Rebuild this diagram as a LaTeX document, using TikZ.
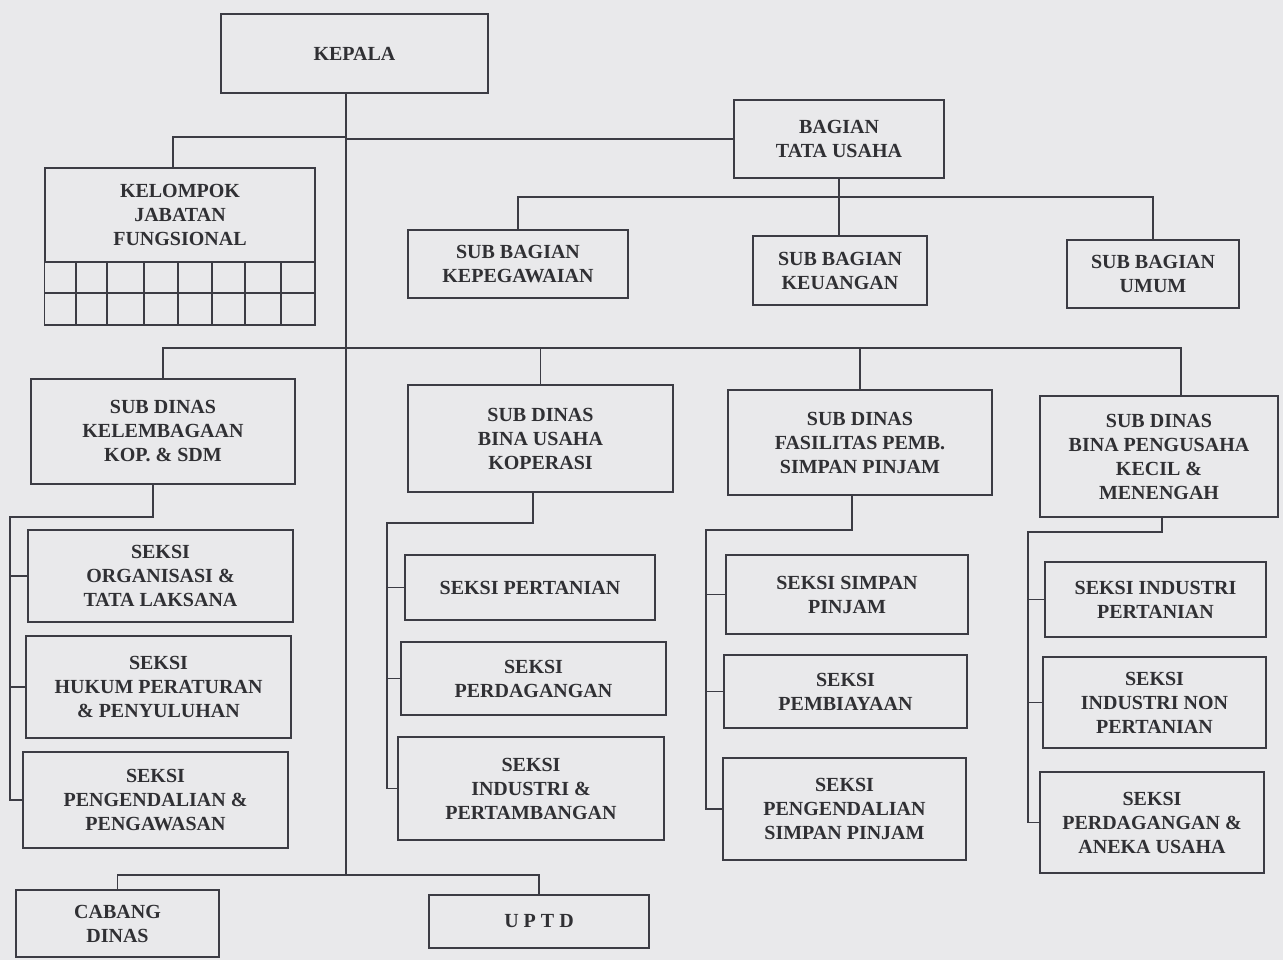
\documentclass[tikz,border=0pt]{standalone}
\usepackage{fontspec}
\setmainfont{Liberation Serif}
\definecolor{bgc}{HTML}{E9E9EB}
\definecolor{linec}{HTML}{3C3C44}
\definecolor{textc}{HTML}{303034}
\tikzset{
  box/.style={draw=linec, line width=1.4pt, align=center, inner sep=0pt,
    text=textc, font=\bfseries\fontsize{20}{24}\selectfont},
  conn/.style={draw=linec, line width=1.4pt}
}
\newcommand\bx[6]{%
  \pgfmathsetmacro\bxcx{(#2+#4)/2}\pgfmathsetmacro\bxcy{(#3+#5)/2}%
  \pgfmathsetmacro\bxw{#4-#2}\pgfmathsetmacro\bxh{#5-#3}%
  \node[box,minimum width=\bxw pt,minimum height=\bxh pt] (#1) at (\bxcx,\bxcy) {#6};}
\begin{document}
\begin{tikzpicture}[x=1pt,y=-1pt]
\useasboundingbox (0,0) rectangle (1283,960);
\fill[bgc] (0,0) rectangle (1283,960);
% boxes
\bx{kepala}{221}{14}{488}{93}{KEPALA}
\bx{bagian}{734}{100}{944}{178}{BAGIAN\\TATA USAHA}
\bx{kepeg}{408}{230}{628}{298}{SUB BAGIAN\\KEPEGAWAIAN}
\bx{keu}{753}{236}{927}{305}{SUB BAGIAN\\KEUANGAN}
\bx{umum}{1067}{240}{1239}{308}{SUB BAGIAN\\UMUM}
\bx{kel}{45}{168}{315}{262}{KELOMPOK\\JABATAN\\FUNGSIONAL}
\draw[conn] (kel.south west) rectangle (315,325);
\draw[conn] (45,293) -- (315,293);
\foreach \gx in {76,107,144,178,212,245,281} \draw[conn] (\gx,262) -- (\gx,325);
\bx{sd1}{31}{379}{295}{484}{SUB DINAS\\KELEMBAGAAN\\KOP. \& SDM}
\bx{sd2}{408}{385}{673}{492}{SUB DINAS\\BINA USAHA\\KOPERASI}
\bx{sd3}{728}{390}{992}{495}{SUB DINAS\\FASILITAS PEMB.\\SIMPAN PINJAM}
\bx{sd4}{1040}{396}{1278}{517}{SUB DINAS\\BINA PENGUSAHA\\KECIL \&\\MENENGAH}
\bx{s11}{28}{530}{293}{622}{SEKSI\\ORGANISASI \&\\TATA LAKSANA}
\bx{s12}{26}{636}{291}{738}{SEKSI\\HUKUM PERATURAN\\\& PENYULUHAN}
\bx{s13}{23}{752}{288}{848}{SEKSI\\PENGENDALIAN \&\\PENGAWASAN}
\bx{s21}{405}{555}{655}{620}{SEKSI PERTANIAN}
\bx{s22}{401}{642}{666}{715}{SEKSI\\PERDAGANGAN}
\bx{s23}{398}{737}{664}{840}{SEKSI\\INDUSTRI \&\\PERTAMBANGAN}
\bx{s31}{726}{555}{968}{634}{SEKSI SIMPAN\\PINJAM}
\bx{s32}{724}{655}{967}{728}{SEKSI\\PEMBIAYAAN}
\bx{s33}{723}{758}{966}{860}{SEKSI\\PENGENDALIAN\\SIMPAN PINJAM}
\bx{s41}{1045}{562}{1266}{637}{SEKSI INDUSTRI\\PERTANIAN}
\bx{s42}{1043}{657}{1266}{748}{SEKSI\\INDUSTRI NON\\PERTANIAN}
\bx{s43}{1040}{772}{1264}{873}{SEKSI\\PERDAGANGAN \&\\ANEKA USAHA}
\bx{cabang}{16}{890}{219}{957}{CABANG\\DINAS}
\bx{uptd}{429}{895}{649}{948}{\addfontfeature{LetterSpace=25}UPTD}
% coordinates
\coordinate (sp) at (346,875);
\coordinate (kj) at (173,137);
\coordinate (bb) at (840,197);
\coordinate (d4) at (1181,348);
\coordinate (c1) at (153,517);
\coordinate (r1) at (10,517);
\coordinate (c2) at (533,523);
\coordinate (r2) at (387,523);
\coordinate (c3) at (852,530);
\coordinate (r3) at (706,530);
\coordinate (c4) at (1162,532);
\coordinate (r4) at (1028,532);
% connectors
\draw[conn] (kepala.south -| sp) -- (sp);
\draw[conn] (bagian.west) -- (bagian.west -| sp);
\draw[conn] (kj -| sp) -- (kj) -- (kel.north -| kj);
\draw[conn] (bagian.south) -- (bagian.south |- keu.north);
\draw[conn] (kepeg.north) |- (bb) -| (umum.north);
\draw[conn] (sd1.north) |- (d4) -- (d4 |- sd4.north);
\draw[conn] (sd2.north) -- (sd2.north |- d4);
\draw[conn] (sd3.north) -- (sd3.north |- d4);
\draw[conn] (sd1.south -| c1) -- (c1) -- (r1) -- (r1 |- s13.west) -- (s13.west);
\draw[conn] (r1 |- s11.west) -- (s11.west);
\draw[conn] (r1 |- s12.west) -- (s12.west);
\draw[conn] (sd2.south -| c2) -- (c2) -- (r2) -- (r2 |- s23.west) -- (s23.west);
\draw[conn] (r2 |- s21.west) -- (s21.west);
\draw[conn] (r2 |- s22.west) -- (s22.west);
\draw[conn] (sd3.south -| c3) -- (c3) -- (r3) -- (r3 |- s33.west) -- (s33.west);
\draw[conn] (r3 |- s31.west) -- (s31.west);
\draw[conn] (r3 |- s32.west) -- (s32.west);
\draw[conn] (sd4.south -| c4) -- (c4) -- (r4) -- (r4 |- s43.west) -- (s43.west);
\draw[conn] (r4 |- s41.west) -- (s41.west);
\draw[conn] (r4 |- s42.west) -- (s42.west);
\draw[conn] (cabang.north) |- (sp) -| (uptd.north);
\end{tikzpicture}
\end{document}
